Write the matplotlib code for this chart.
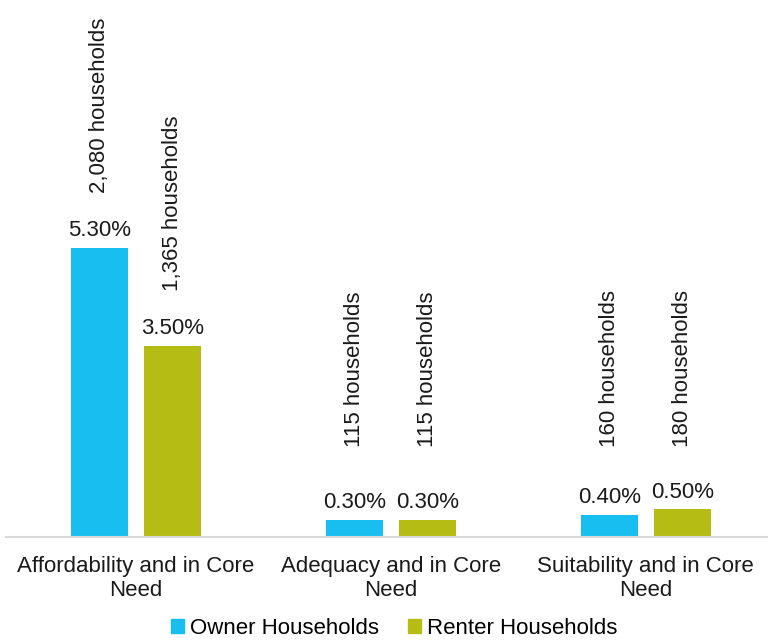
import numpy as np
import matplotlib.pyplot as plt
from matplotlib.patches import Patch

plt.rcParams['font.family'] = ['Liberation Sans', 'DejaVu Sans']

categories = ['Affordability and in Core\nNeed', 'Adequacy and in Core\nNeed', 'Suitability and in Core\nNeed']
owner_pct = [5.3, 0.3, 0.4]
renter_pct = [3.5, 0.3, 0.5]
owner_hh = ['2,080 households', '115 households', '160 households']
renter_hh = ['1,365 households', '115 households', '180 households']

owner_color = '#17BEEF'
renter_color = '#B5BD14'
fs = 16

fig = plt.figure(figsize=(7.68, 6.42), dpi=100)
ax = fig.add_axes([0.008, 0.164, 0.992, 0.814])

x = np.arange(len(categories))
w = 0.2235
off = 0.143
ax.bar(x - off, owner_pct, w, color=owner_color)
ax.bar(x + off, renter_pct, w, color=renter_color)

for xs, vals, hh in [(x - off, owner_pct, owner_hh), (x + off, renter_pct, renter_hh)]:
    for xi, v, h in zip(xs, vals, hh):
        ax.annotate(f'{v:.2f}%', (xi, v), xytext=(0, 5), textcoords='offset points',
                    ha='center', va='bottom', fontsize=fs, color='#1a1a1a')
        ax.text(xi, max(v + 1.02, 1.65), h, rotation=90, ha='center', va='bottom',
                fontsize=fs, color='#1a1a1a')

ax.set_xlim(-0.51, 2.48)
ax.set_ylim(0, 9.6)
ax.set_yticks([])
ax.set_xticks(x)
ax.set_xticklabels(categories, fontsize=fs, color='#1a1a1a', linespacing=1.2)
ax.tick_params(axis='x', length=0, pad=14)
for s in ['top', 'right', 'left']:
    ax.spines[s].set_visible(False)
ax.spines['bottom'].set_color('#D9D9D9')
ax.spines['bottom'].set_linewidth(1.5)

handles = [Patch(color=owner_color, label='Owner Households'),
           Patch(color=renter_color, label='Renter Households')]
fig.legend(handles=handles, loc='lower center', bbox_to_anchor=(0.513, -0.026), ncol=2,
           frameon=False, fontsize=fs, handlelength=0.6, handleheight=0.6,
           handletextpad=0.25, columnspacing=1.3)

fig.savefig('out.png', dpi=100)
